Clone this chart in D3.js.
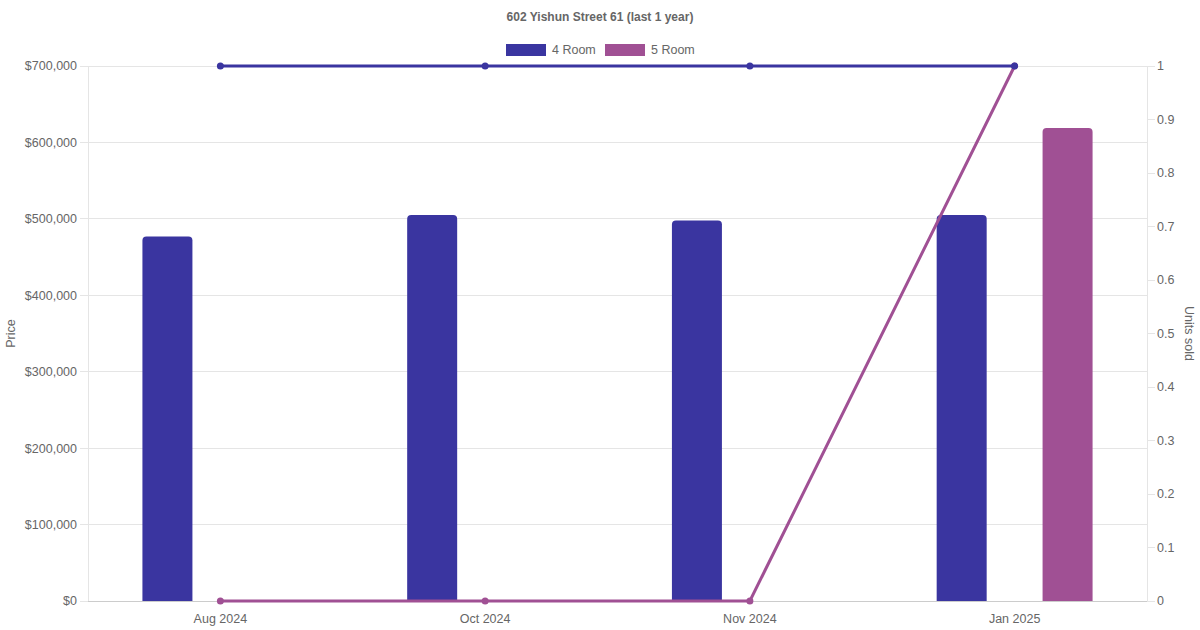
<!DOCTYPE html>
<html><head><meta charset="utf-8">
<script src="https://cdn.jsdelivr.net/npm/d3@7"></script>
<style>body{margin:0;background:#fff}svg{display:block;font-family:"Liberation Sans",Arial,Helvetica,sans-serif}</style>
</head><body><svg id="c" width="1200" height="630"></svg>
<script>
const title = "602 Yishun Street 61 (last 1 year)";
const months = ["Aug 2024", "Oct 2024", "Nov 2024", "Jan 2025"];
const seriesNames = ["4 Room", "5 Room"];
const seriesColors = ["#3a35a0", "#a05094"];
const price4Room = [477000, 505000, 498000, 505000];
const price5Room = [null, null, null, 619000];
const units4Room = [1, 1, 1, 1];
const units5Room = [0, 0, 0, 1];
const priceTicks = [0, 100000, 200000, 300000, 400000, 500000, 600000, 700000];
const unitTicks = [0, 0.1, 0.2, 0.3, 0.4, 0.5, 0.6, 0.7, 0.8, 0.9, 1];

const svg = d3.select("#c");
const L = 88, R = 1147, T = 66, B = 601;
const txt = "#666", grid = "#e5e5e5";

const x = d3.scaleBand().domain(months).range([L, R]);
const xs = d3.scaleBand().domain(seriesNames).range([x.bandwidth() * 0.1, x.bandwidth() * 0.9]);
const yL = d3.scaleLinear().domain([0, 700000]).range([B, T]);
const yR = d3.scaleLinear().domain([0, 1]).range([B, T]);

// gridlines
svg.append("g").selectAll("line").data(priceTicks).join("line")
  .attr("x1", L - 8).attr("x2", R).attr("y1", d => yL(d)).attr("y2", d => yL(d))
  .attr("stroke", grid).attr("shape-rendering", "crispEdges");
svg.append("line").attr("x1", L).attr("x2", L).attr("y1", T).attr("y2", B).attr("stroke", grid).attr("shape-rendering", "crispEdges");
svg.append("line").attr("x1", R).attr("x2", R).attr("y1", T).attr("y2", B).attr("stroke", grid).attr("shape-rendering", "crispEdges");
svg.append("g").selectAll("line").data(unitTicks).join("line")
  .attr("x1", R).attr("x2", R + 8).attr("y1", d => yR(d)).attr("y2", d => yR(d))
  .attr("stroke", grid).attr("shape-rendering", "crispEdges");
svg.append("line").attr("x1", L).attr("x2", R).attr("y1", B).attr("y2", B).attr("stroke", "#ccc").attr("shape-rendering", "crispEdges");

const fmt = d3.format("$,.0f");
svg.append("g").selectAll("text").data(priceTicks).join("text")
  .attr("x", L - 11).attr("y", d => yL(d)).attr("dy", "0.35em").attr("text-anchor", "end")
  .attr("font-size", 12.5).attr("fill", txt).text(d => fmt(d));
svg.append("g").selectAll("text").data(unitTicks).join("text")
  .attr("x", R + 10).attr("y", d => yR(d)).attr("dy", "0.35em").attr("text-anchor", "start")
  .attr("font-size", 12.5).attr("fill", txt).text(d => d3.format("~g")(d));
svg.append("g").selectAll("text").data(months).join("text")
  .attr("x", d => x(d) + x.bandwidth() / 2).attr("y", B + 18).attr("dy", "0.35em").attr("text-anchor", "middle")
  .attr("font-size", 12.5).attr("fill", txt).text(d => d);

svg.append("text").attr("transform", `translate(15,${(T + B) / 2}) rotate(-90)`).attr("text-anchor", "middle")
  .attr("font-size", 12.5).attr("fill", txt).text("Price");
svg.append("text").attr("transform", `translate(1185,${(T + B) / 2}) rotate(90)`).attr("text-anchor", "middle")
  .attr("font-size", 12.5).attr("fill", txt).text("Units sold");

svg.append("text").attr("x", 600).attr("y", 17).attr("dy", "0.35em").attr("text-anchor", "middle")
  .attr("font-size", 12).attr("font-weight", "bold").attr("fill", txt).text(title);

const legendX = [506, 605];
seriesNames.forEach((n, i) => {
  svg.append("rect").attr("x", legendX[i]).attr("y", 44).attr("width", 40).attr("height", 12)
    .attr("fill", seriesColors[i]);
  svg.append("text").attr("x", legendX[i] + 46).attr("y", 50).attr("dy", "0.35em")
    .attr("font-size", 12.5).attr("fill", txt).text(n);
});

const barW = 50, rad = 4;
function topRounded(x0, y0, w, h, r) {
  r = Math.min(r, h);
  return `M${x0},${y0 + h}V${y0 + r}Q${x0},${y0} ${x0 + r},${y0}H${x0 + w - r}Q${x0 + w},${y0} ${x0 + w},${y0 + r}V${y0 + h}Z`;
}
const priceSeries = [price4Room, price5Room];
priceSeries.forEach((vals, si) => {
  const data = months.map((m, i) => ({ m, v: vals[i] })).filter(d => d.v != null);
  svg.append("g").selectAll("path").data(data).join("path")
    .attr("d", d => {
      const cx = x(d.m) + xs(seriesNames[si]) + xs.bandwidth() / 2;
      const y0 = yL(d.v);
      return topRounded(cx - barW / 2, y0, barW, B - y0, rad);
    })
    .attr("fill", seriesColors[si]);
});

// lines: 5 Room first, 4 Room on top
const unitSeries = [units4Room, units5Room];
const line = d3.line().x(d => x(d.m) + x.bandwidth() / 2).y(d => yR(d.v));
[1, 0].forEach(si => {
  const vals = unitSeries[si];
  const data = months.map((m, i) => ({ m, v: vals[i] }));
  const g = svg.append("g");
  g.append("path").attr("d", line(data)).attr("fill", "none").attr("stroke", seriesColors[si]).attr("stroke-width", 3);
  g.selectAll("circle").data(data).join("circle")
    .attr("cx", d => x(d.m) + x.bandwidth() / 2).attr("cy", d => yR(d.v)).attr("r", 3.5)
    .attr("fill", seriesColors[si]);
});
</script></body></html>
